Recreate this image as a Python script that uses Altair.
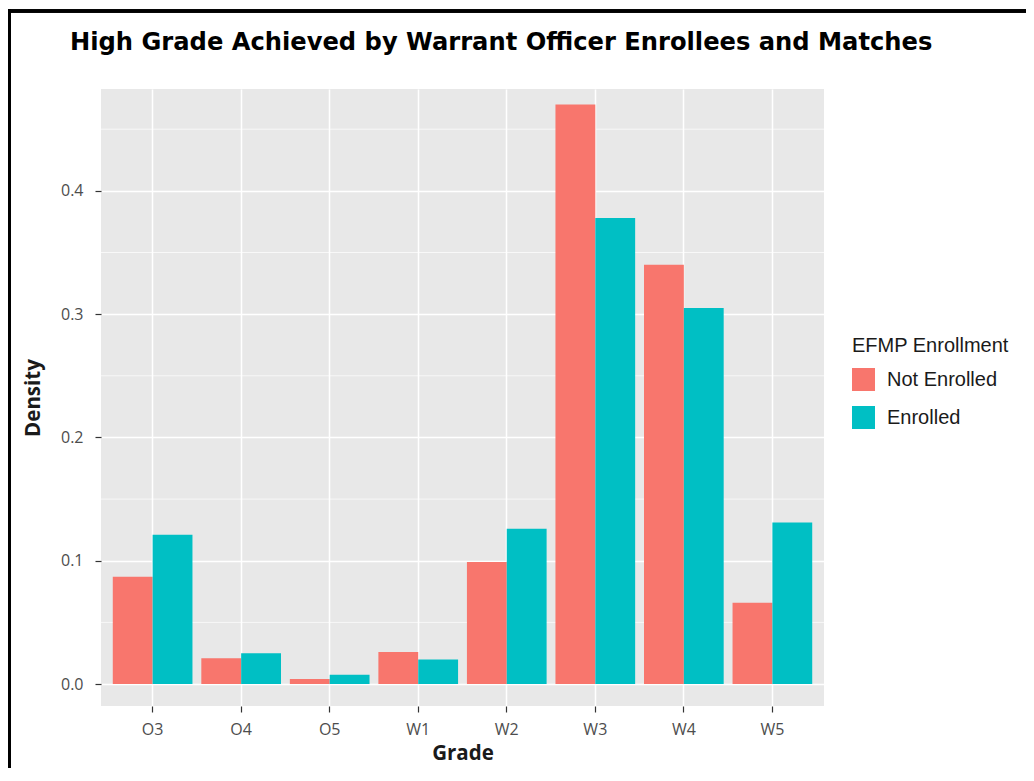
import altair as alt
import pandas as pd

grades = ["O3", "O4", "O5", "W1", "W2", "W3", "W4", "W5"]
not_enrolled = [0.087, 0.021, 0.004, 0.026, 0.099, 0.470, 0.340, 0.066]
enrolled = [0.121, 0.025, 0.0075, 0.020, 0.126, 0.378, 0.305, 0.131]
groups = ["Not Enrolled", "Enrolled"]
colors = ["#F8766D", "#00BFC4"]
y_ticks = [0.0, 0.1, 0.2, 0.3, 0.4]
minor_breaks = [0.05, 0.15, 0.25, 0.35, 0.45]
title_text = "High Grade Achieved by Warrant Officer Enrollees and Matches"

rows = []
for g, a, b in zip(grades, not_enrolled, enrolled):
    rows.append({"Grade": g, "EFMP Enrollment": groups[0], "Density": a})
    rows.append({"Grade": g, "EFMP Enrollment": groups[1], "Density": b})
df = pd.DataFrame(rows)
minor_df = pd.DataFrame({"m": minor_breaks})

W, H = 723, 617
y_scale = alt.Scale(domain=[-0.0178, 0.4826], nice=False, zero=False)

minor = alt.Chart(minor_df).mark_rule(color="white", strokeWidth=0.7).encode(
    y=alt.Y("m:Q", scale=y_scale)
)

bars = alt.Chart(df).mark_bar(strokeWidth=0).encode(
    x=alt.X(
        "Grade:N",
        sort=grades,
        scale=alt.Scale(paddingInner=0.1, paddingOuter=0.133),
        axis=alt.Axis(
            title="Grade",
            labelAngle=0,
            labelFont="Open Sans",
            labelFontSize=16,
            labelColor="#4D4D4D",
            labelPadding=9,
            tickSize=6,
            tickColor="#333333",
            tickWidth=1.2,
            domain=False,
            grid=True,
            gridColor="white",
            gridWidth=1.5,
            titleFont="Open Sans",
            titleFontSize=20.5,
            titleFontWeight="bold",
            titleColor="#1A1A1A",
            titlePadding=6,
        ),
    ),
    xOffset=alt.XOffset(
        "EFMP Enrollment:N",
        sort=groups,
        scale=alt.Scale(paddingInner=0, paddingOuter=0),
    ),
    y=alt.Y(
        "Density:Q",
        scale=y_scale,
        axis=alt.Axis(
            title="Density",
            values=y_ticks,
            format=".1f",
            labelFont="Open Sans",
            labelFontSize=16,
            labelColor="#4D4D4D",
            labelPadding=12,
            tickSize=6,
            tickColor="#333333",
            tickWidth=1.2,
            domain=False,
            grid=True,
            gridColor="white",
            gridWidth=1.5,
            titleFont="Open Sans",
            titleFontSize=20.5,
            titleFontWeight="bold",
            titleColor="#1A1A1A",
            titlePadding=17,
        ),
    ),
    y2=alt.datum(0),
    color=alt.Color(
        "EFMP Enrollment:N",
        sort=groups,
        scale=alt.Scale(domain=groups, range=colors),
        legend=alt.Legend(
            title="EFMP Enrollment",
            orient="none",
            legendX=751,
            legendY=247,
            padding=0,
            symbolType="square",
            symbolSize=529,
            symbolStrokeWidth=0,
            symbolOpacity=1,
            titleFont="Liberation Sans",
            titleFontSize=20,
            titleFontWeight="normal",
            titleColor="#1A1A1A",
            titlePadding=12,
            labelFont="Liberation Sans",
            labelFontSize=20,
            labelColor="#1A1A1A",
            labelOffset=12,
            rowPadding=15,
        ),
    ),
)

frame_top = alt.Chart(minor_df).mark_rule(color="black", strokeWidth=3).encode(
    x=alt.value(-93), x2=alt.value(940), y=alt.value(-78)
)
frame_left = alt.Chart(minor_df).mark_rule(color="black", strokeWidth=3).encode(
    x=alt.value(-91.5), y=alt.value(-79.5), y2=alt.value(720)
)

chart = (
    alt.layer(minor, bars, frame_top, frame_left)
    .properties(
        width=W,
        height=H,
        background="white",
        autosize=alt.AutoSizeParams(type="none"),
        padding={"left": 93, "top": 81, "right": 202, "bottom": 62},
        title=alt.TitleParams(
            text=title_text,
            anchor="start",
            frame="group",
            dx=-31,
            offset=-66,
            baseline="alphabetic",
            font="DejaVu Sans",
            fontSize=24.2,
            fontWeight="bold",
            color="black",
        ),
    )
    .configure_view(fill="#E8E8E8", strokeWidth=0)
)

chart.save("out.html", embed_options={"renderer": "svg", "actions": False})
